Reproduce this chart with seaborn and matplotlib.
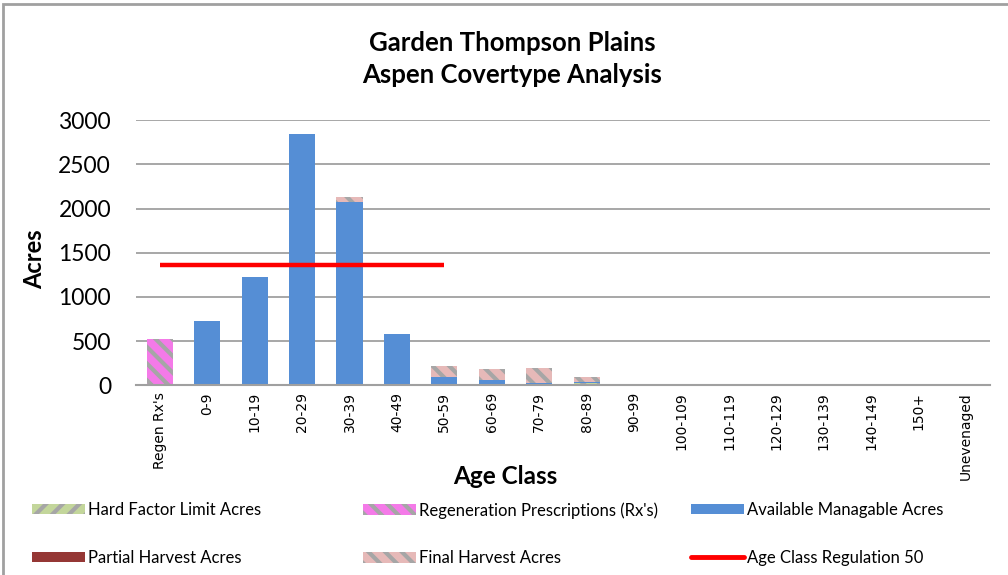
import numpy as np
import matplotlib
matplotlib.use("Agg")
import matplotlib.pyplot as plt
from matplotlib.patches import Patch, Rectangle
from matplotlib.lines import Line2D
import seaborn as sns

# =============================
# DATA (acres per age class)
# =============================
categories = ["Regen Rx's", "0-9", "10-19", "20-29", "30-39", "40-49", "50-59",
              "60-69", "70-79", "80-89", "90-99", "100-109", "110-119",
              "120-129", "130-139", "140-149", "150+", "Unevenaged"]
hard_factor = [0, 0, 0, 0, 0, 0, 0, 0, 0, 20, 0, 0, 0, 0, 0, 0, 0, 0]
regen_rx = [520, 0, 0, 0, 0, 0, 0, 0, 0, 0, 0, 0, 0, 0, 0, 0, 0, 0]
available = [0, 725, 1225, 2840, 2075, 575, 90, 55, 30, 15, 0, 0, 0, 0, 0, 0, 0, 0]
partial = [0, 0, 0, 0, 0, 0, 0, 0, 0, 0, 0, 0, 0, 0, 0, 0, 0, 0]
final = [0, 0, 0, 5, 55, 0, 125, 130, 165, 55, 0, 0, 0, 0, 0, 0, 0, 0]
reg_classes = categories[:7]
reg_level = 1360

# =============================
# STYLE
# =============================
sns.set_style("white")
plt.rcParams["font.family"] = ["Lato", "DejaVu Sans"]
plt.rcParams["text.color"] = "black"
plt.rcParams["xtick.color"] = "black"
plt.rcParams["ytick.color"] = "black"
plt.rcParams["hatch.linewidth"] = 3
hatch_gray = "#a6a6a6"

series = [
    ("Hard Factor Limit Acres", hard_factor, "#c3d69b", "//"),
    ("Regeneration Prescriptions (Rx's)", regen_rx, "#f47ae8", "\\\\"),
    ("Available Managable Acres", available, "#558ed5", None),
    ("Partial Harvest Acres", partial, "#953735", None),
    ("Final Harvest Acres", final, "#e6b9b8", "\\\\"),
]

fig = plt.figure(figsize=(10.08, 5.75), dpi=100)
ax = fig.add_axes([0.135, 0.330, 0.847, 0.461])

# =============================
# STACKED BARS
# =============================
bottom = np.zeros(len(categories))
handles = {}
for label, vals, col, hatch in series:
    vals = np.array(vals, dtype=float)
    sns.barplot(x=categories, y=vals, bottom=bottom, color=col, saturation=1,
                width=0.55, hatch=hatch, edgecolor=hatch_gray if hatch else col,
                linewidth=0, ax=ax)
    bottom += vals
    handles[label] = Patch(facecolor=col, hatch=hatch,
                           edgecolor=hatch_gray if hatch else col, linewidth=0)

# regulation line
ax.plot(range(len(reg_classes)), [reg_level] * len(reg_classes),
        color="#ff0000", lw=3.2, solid_capstyle="butt")
handles["Age Class Regulation 50"] = Line2D([], [], color="#ff0000", lw=3.5)

# =============================
# AXES
# =============================
ax.set_xlim(-0.5, len(categories) - 0.5)
ax.set_ylim(0, 3000)
ax.set_yticks(range(0, 3001, 500))
ax.yaxis.grid(True, color="#a0a0a0", lw=1.3)
ax.set_axisbelow(True)
for s in ["top", "right", "left"]:
    ax.spines[s].set_visible(False)
ax.spines["bottom"].set_color("#a0a0a0")
ax.spines["bottom"].set_linewidth(1.5)
ax.tick_params(axis="y", length=0, pad=18, labelsize=16.5)
ax.tick_params(axis="x", length=0, pad=5)
ax.set_xticks(range(len(categories)))
ax.set_xticklabels(categories, rotation=90, family="DejaVu Sans", fontsize=10)
ax.set_xlabel("")
ax.set_ylabel("")

# titles / labels
fig.text(0.508, 1 - 59 / 575, "Garden Thompson Plains\nAspen Covertype Analysis",
         ha="center", va="center", fontsize=18.5, fontweight="bold", linespacing=1.4)
fig.text(35 / 1008, 1 - 259 / 575, "Acres", rotation=90, ha="center", va="center",
         fontsize=17, fontweight="bold")
fig.text(505 / 1008, 1 - 477 / 575, "Age Class", ha="center", va="center",
         fontsize=17.5, fontweight="bold")

# =============================
# LEGEND (three columns)
# =============================
cols = [
    (32, ["Hard Factor Limit Acres", "Partial Harvest Acres"]),
    (363, ["Regeneration Prescriptions (Rx's)", "Final Harvest Acres"]),
    (691, ["Available Managable Acres", "Age Class Regulation 50"]),
]
for x0, labs in cols:
    fig.legend([handles[l] for l in labs], labs, loc="upper left",
               bbox_to_anchor=(x0 / 1008, 1 - 502 / 575), frameon=False,
               fontsize=12, handlelength=3.2, handleheight=0.6,
               handletextpad=0.15, labelspacing=1.9, borderpad=0, borderaxespad=0)

# chart border
fig.patches.append(Rectangle((3 / 1008, -0.1), 1.2, 1.1 - 4 / 575, transform=fig.transFigure,
                             fill=False, edgecolor="#a0a0a0", lw=2))

plt.savefig("out.png", dpi=100)
plt.close()
